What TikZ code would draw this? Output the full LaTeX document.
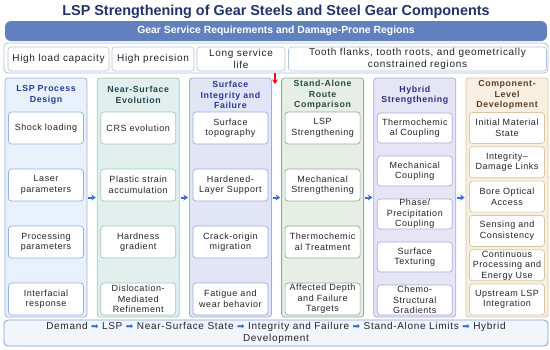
\documentclass[tikz,border=0pt]{standalone}
\usepackage{fontspec}
\setmainfont{Liberation Sans}
\newfontfamily\spaced[LetterSpace=6]{Liberation Sans}
\newfontfamily\wider[LetterSpace=7]{Liberation Sans}
\newfontfamily\arrowfont{DejaVu Sans}
\usetikzlibrary{arrows.meta,positioning}
\definecolor{titlenavy}{RGB}{31,52,104}
\definecolor{barblue}{RGB}{98,128,190}
\definecolor{reqline}{RGB}{172,192,228}
\definecolor{reqboxline}{RGB}{180,192,220}
\definecolor{itemtext}{RGB}{35,35,40}
\definecolor{flowblue}{RGB}{58,108,214}
\definecolor{cola}{RGB}{232,240,251}
\definecolor{colaline}{RGB}{150,180,224}
\definecolor{colahead}{RGB}{38,62,150}
\definecolor{colb}{RGB}{226,239,237}
\definecolor{colbline}{RGB}{160,200,196}
\definecolor{colbhead}{RGB}{32,72,84}
\definecolor{colc}{RGB}{226,229,246}
\definecolor{colcline}{RGB}{160,172,222}
\definecolor{colchead}{RGB}{42,56,150}
\definecolor{cold}{RGB}{231,238,229}
\definecolor{coldline}{RGB}{150,172,152}
\definecolor{coldhead}{RGB}{38,78,62}
\definecolor{cole}{RGB}{229,229,246}
\definecolor{coleline}{RGB}{172,170,222}
\definecolor{colehead}{RGB}{50,44,128}
\definecolor{colf}{RGB}{246,239,226}
\definecolor{colfline}{RGB}{218,198,162}
\definecolor{colfhead}{RGB}{92,62,32}
\definecolor{sumfill}{RGB}{241,245,252}
\definecolor{sumline}{RGB}{130,160,216}
\tikzset{
  colbox/.style={
    draw=#1line,
    fill=#1,
    line width=0.8pt,
    rounded corners=3pt,
    minimum width=82pt,
    minimum height=239pt,
    inner sep=0pt
  },
  colhead/.style={
    text=#1head,
    align=center,
    inner sep=0pt,
    font=\wider\bfseries\fontsize{8.8}{10.3}\selectfont
  },
  itembox/.style={
    draw=#1,
    fill=white,
    line width=0.7pt,
    rounded corners=3pt,
    minimum width=75pt,
    text width=74pt,
    align=center,
    inner sep=0pt,
    text=itemtext,
    font=\spaced\fontsize{9}{10.5}\selectfont
  },
  reqbox/.style={
    draw=reqboxline,
    fill=white,
    line width=0.6pt,
    rounded corners=3pt,
    minimum height=24pt,
    align=center,
    inner sep=0pt,
    text=itemtext,
    font=\wider\fontsize{10}{11.5}\selectfont
  },
  colarrow/.style={
    flowblue,
    line width=2pt,
    -{Stealth[length=4.5pt,width=6pt]},
    shorten <=1pt,
    shorten >=1pt
  },
  redarrow/.style={
    red,
    line width=1.6pt,
    -{Stealth[length=4.5pt,width=5.5pt]}
  }
}
\newcommand{\flowsym}{{\color{flowblue}\arrowfont\fontsize{9}{10}\selectfont ➡}}

\begin{document}
\begin{tikzpicture}[x=1pt,y=-1pt]
  \useasboundingbox (0,0) rectangle (550,349);
  \node[text=titlenavy, font=\bfseries\fontsize{14.4}{16}\selectfont] (title) at (276,11.5)
    {LSP Strengthening of Gear Steels and Steel Gear Components};
  \node[fill=barblue, rounded corners=6pt, minimum width=542pt, minimum height=20pt, inner sep=0pt,
    text=white, font=\bfseries\fontsize{10.4}{12}\selectfont] (svcbar) at (276,31)
    {Gear Service Requirements and Damage-Prone Regions};
  \node[draw=reqline, fill=white, line width=0.8pt, rounded corners=4pt, minimum width=544pt,
    minimum height=30pt, inner sep=0pt] (reqrow) at (276,58) {};
  \node[reqbox, minimum width=101pt] (req1) at (58.5,59) {High load capacity};
  \node[reqbox, minimum width=82pt] (req2) at (153,59) {High precision};
  \node[reqbox, minimum width=88pt] (req3) at (241,59) {Long service\\life};
  \node[reqbox, minimum width=258pt] (req4) at (417.5,59)
    {Tooth flanks, tooth roots, and geometrically\\constrained regions};

  \foreach \i/\c in {1/cola,2/colb,3/colc,4/cold,5/cole,6/colf}
    \node[colbox=\c] (col\i) at ({46+92.2*(\i-1)},197.5) {};
  \foreach \i [evaluate=\i as \j using int(\i+1)] in {1,...,5}
    \draw[colarrow] (col\i) -- (col\j);
  \coordinate (redtip) at (275,84);
  \draw[redarrow] (reqrow.south -| redtip) -- (redtip);

  \node[colhead=cola] (head1) at (col1 |- 0,95) {LSP Process\\Design};
  \node[colhead=colb] (head2) at (col2 |- 0,95) {Near-Surface\\Evolution};
  \node[colhead=colc] (head3) at (col3 |- 0,95) {Surface\\Integrity and\\Failure};
  \node[colhead=cold] (head4) at (col4 |- 0,95) {Stand-Alone\\Route\\Comparison};
  \node[colhead=cole] (head5) at (col5 |- 0,95) {Hybrid\\Strengthening};
  \node[colhead=colf] (head6) at (col6 |- 0,95) {Component-\\Level\\Development};

  \foreach \t [count=\k] in {Shock loading, Laser\\parameters, Processing\\parameters, Interfacial\\response}
    \node[itembox=colaline, minimum height=32pt] (design\k) at (col1 |- 0,{128+57*(\k-1)}) {\t};
  \foreach \t [count=\k] in {CRS evolution, Plastic strain\\accumulation, Hardness\\gradient,
      Dislocation-\\Mediated\\Refinement}
    \node[itembox=colbline, minimum height=32pt] (surf\k) at (col2 |- 0,{128+57*(\k-1)}) {\t};
  \foreach \t [count=\k] in {Surface\\topography, Hardened-\\Layer Support, Crack-origin\\migration,
      Fatigue and\\wear behavior}
    \node[itembox=colcline, minimum height=32pt] (integ\k) at (col3 |- 0,{128+57*(\k-1)}) {\t};
  \foreach \t [count=\k] in {LSP\\Strengthening, Mechanical\\Strengthening, Thermochemic\\al Treatment,
      Affected Depth\\and Failure\\Targets}
    \node[itembox=coldline, minimum height=32pt] (route\k) at (col4 |- 0,{128+57*(\k-1)}) {\t};
  \foreach \t [count=\k] in {Thermochemic\\al Coupling, Mechanical\\Coupling, Phase/\\Precipitation\\Coupling,
      Surface\\Texturing, Chemo-\\Structural\\Gradients}
    \node[itembox=coleline, minimum height=30pt] (hybrid\k) at (col5 |- 0,{128+43*(\k-1)}) {\t};
  \foreach \t [count=\k] in {Initial Material\\State, Integrity–\\Damage Links, Bore Optical\\Access,
      Sensing and\\Consistency, Continuous\\Processing and\\Energy Use, Upstream LSP\\Integration}
    \node[itembox=colfline, minimum height=31pt] (comp\k) at (col6 |- 0,{128+34.3*(\k-1)}) {\t};

  \node[draw=sumline, fill=sumfill, line width=0.8pt, rounded corners=4pt, minimum width=544pt,
    minimum height=26pt, inner sep=0pt, align=center, text=itemtext,
    font=\wider\fontsize{10}{12.3}\selectfont] (summary) at (276,333)
    {Demand \flowsym{} LSP \flowsym{} Near-Surface State \flowsym{} Integrity and Failure
     \flowsym{} Stand-Alone Limits \flowsym{} Hybrid\\Development};
\end{tikzpicture}
\end{document}
